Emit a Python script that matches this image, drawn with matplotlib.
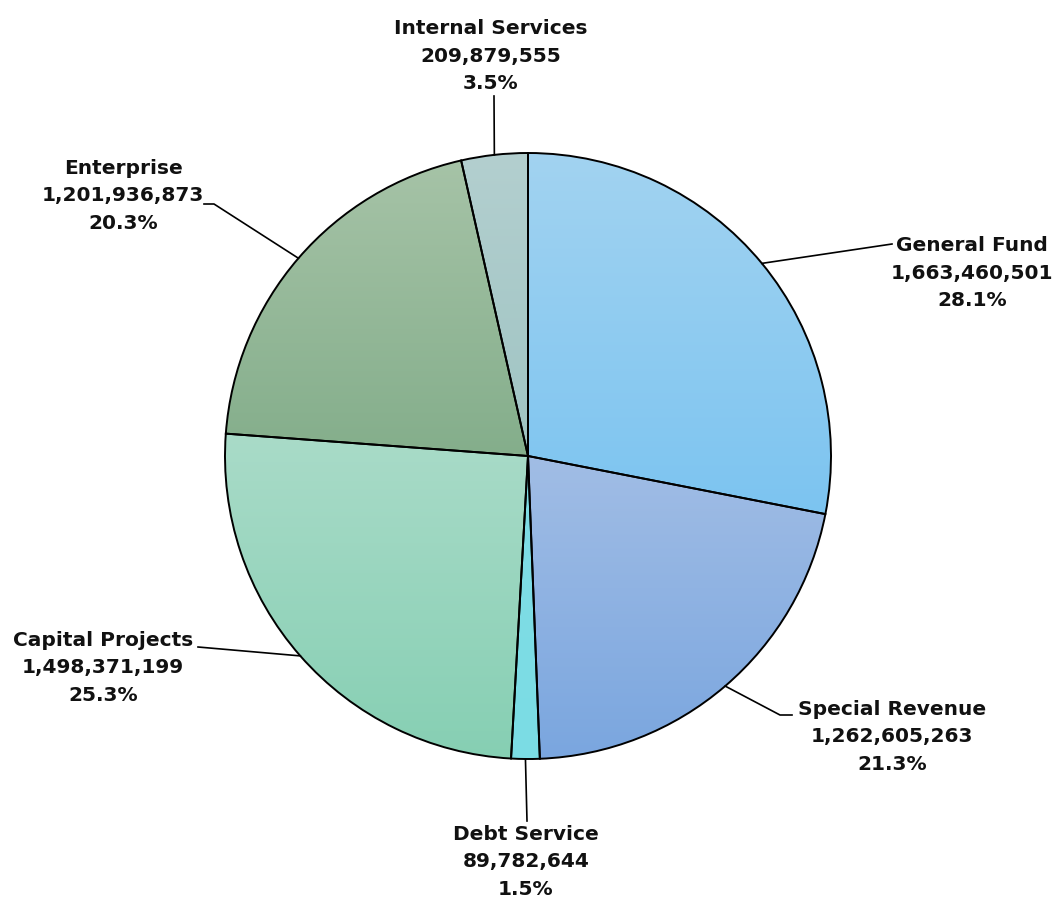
import numpy as np
import matplotlib
matplotlib.use("Agg")
import matplotlib.pyplot as plt
from matplotlib.colors import to_rgb

# Fund budget split
funds = ["General Fund", "Special Revenue", "Debt Service",
         "Capital Projects", "Enterprise", "Internal Services"]
amounts = [1663460501, 1262605263, 89782644, 1498371199, 1201936873, 209879555]
percents = ["28.1%", "21.3%", "1.5%", "25.3%", "20.3%", "3.5%"]

# gradient colours, top -> bottom of each slice
top_colors = ["#a2d3f1", "#a1bde5", "#80dde6", "#a9dbc8", "#a6c3a7", "#b3cfcf"]
bottom_colors = ["#7cc4f0", "#7aa6df", "#7bdce4", "#86cfb3", "#84ae8b", "#9fc4c3"]

W, H = 1054, 903
CX, CY, R = 528, H - 457, 303

# label block centre (pixels, y from top) and elbow point of leader line
label_pos = [(972, 273), (892, 737), (526, 862), (103, 668), (123, 196), (491, 56)]
elbows = [[(892, 245)], [(780, 716), (792, 716)], [(527, 822)],
          [(198, 648)], [(214, 205), (204, 205)], [(494, 97)]]

plt.rcParams['font.family'] = ['DejaVu Sans']

fig = plt.figure(figsize=(W / 100, H / 100), dpi=100)
ax = fig.add_axes([0, 0, 1, 1])

wedges, _ = ax.pie(amounts, startangle=90, counterclock=False,
                   center=(CX, CY), radius=R, frame=True,
                   wedgeprops=dict(edgecolor='black', linewidth=1.4, facecolor='none'))
ax.set_xlim(0, W)
ax.set_ylim(0, H)
ax.set_aspect('equal')
ax.axis('off')

for w, c0, c1 in zip(wedges, top_colors, bottom_colors):
    bb = w.get_path().get_extents()
    t = np.linspace(0, 1, 256)[:, None, None]
    grad = (1 - t) * np.array(to_rgb(c0)) + t * np.array(to_rgb(c1))
    im = ax.imshow(grad, extent=(bb.x0, bb.x1, bb.y0, bb.y1), origin='upper',
                   aspect='auto', interpolation='bilinear', zorder=1)
    im.set_clip_path(w)
    w.set_zorder(2)

total = sum(amounts)
start = 90.0
for i, w in enumerate(wedges):
    span = 360.0 * amounts[i] / total
    mid = np.deg2rad(start - span / 2)
    start -= span
    px, py = CX + R * np.cos(mid), CY + R * np.sin(mid)
    xs = [px] + [e[0] for e in elbows[i]]
    ys = [py] + [H - e[1] for e in elbows[i]]
    ax.plot(xs, ys, color='black', lw=1.2, zorder=3)

    lx, ly = label_pos[i]
    ax.text(lx, H - ly, f"{funds[i]}\n{amounts[i]:,}\n{percents[i]}",
            ha='center', va='center', fontsize=14.5, fontweight='bold',
            linespacing=1.55, color='#111111', zorder=4)

fig.savefig("out.png", dpi=100, facecolor='white')
